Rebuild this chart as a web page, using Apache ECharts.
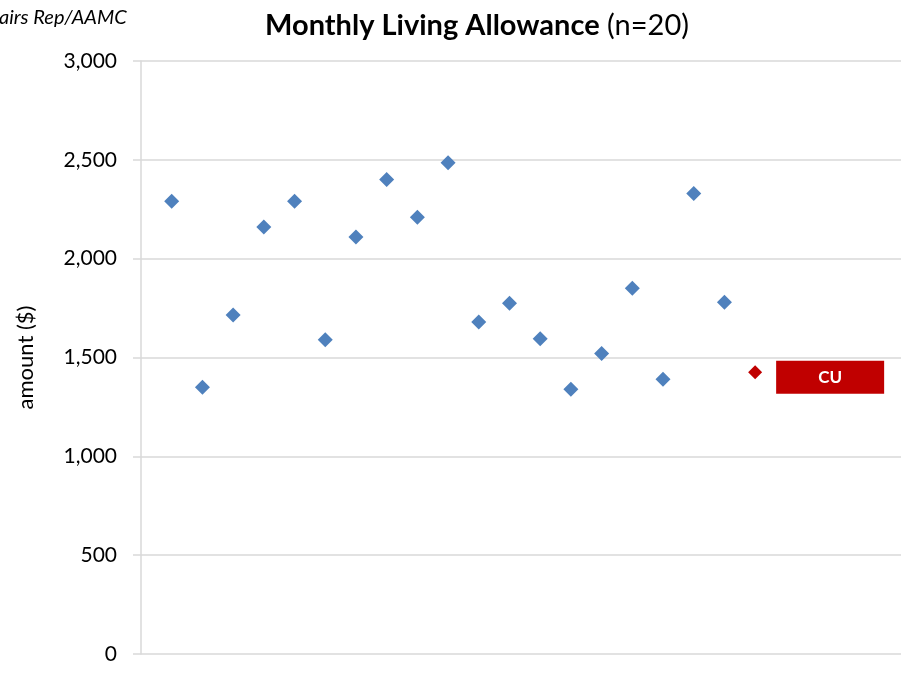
<!DOCTYPE html>
<html>
<head>
<meta charset="utf-8">
<script src="https://cdn.jsdelivr.net/npm/echarts@6/dist/echarts.min.js"></script>
<style>
  html, body { margin: 0; padding: 0; background: #fff; }
  #main { width: 901px; height: 674px; }
</style>
</head>
<body>
<div id="main"></div>
<script>
// school index along the x axis (no labels shown)
var schools = [1, 2, 3, 4, 5, 6, 7, 8, 9, 10, 11, 12, 13, 14, 15, 16, 17, 18, 19]
var allowance = [2290, 1350, 1715, 2160, 2290, 1590, 2110, 2400, 2210, 2485,
                 1680, 1775, 1595, 1340, 1520, 1850, 1390, 2330, 1780]
var cuSchool = 20
var cuAllowance = 1425
var yTicks = [0, 500, 1000, 1500, 2000, 2500, 3000]

var font = 'Lato, "Open Sans", sans-serif'
var myChart

function initChart() {
    myChart = echarts.init(document.getElementById('main'))

    var others = schools.map(function (s, i) { return [s, allowance[i]] })

    var option = {
        animation: false,
        textStyle: { fontFamily: font },
        title: {
            text: '{b|Monthly Living Allowance}{n|\u00a0(n=20)}',
            left: 472,
            top: 6,
            textAlign: 'center',
            textStyle: {
                fontWeight: 'normal',
                rich: {
                    b: { fontFamily: font, fontSize: 29, fontWeight: 'bold', color: '#000' },
                    n: { fontFamily: font, fontSize: 29, fontWeight: 'normal', color: '#000' }
                }
            }
        },
        graphic: [{
            type: 'text',
            left: -1,
            top: 8,
            style: {
                text: 'airs Rep/AAMC',
                font: 'italic 20px ' + font,
                fill: '#000'
            }
        }],
        grid: { left: 141, right: 0, top: 61, bottom: 20 },
        xAxis: {
            type: 'value',
            min: 0,
            max: 24.75,
            axisLabel: { show: false },
            axisTick: { show: false },
            splitLine: { show: false },
            axisLine: { show: false }
        },
        yAxis: {
            type: 'value',
            min: yTicks[0],
            max: yTicks[yTicks.length - 1],
            interval: 500,
            name: 'amount ($)',
            nameLocation: 'middle',
            nameGap: 104,
            nameRotate: 90,
            nameTextStyle: { fontFamily: font, fontSize: 22, color: '#000' },
            axisLine: { show: true, lineStyle: { color: '#d9d9d9', width: 1.5 } },
            axisTick: { show: true, length: 8, lineStyle: { color: '#d9d9d9', width: 1.5 } },
            splitLine: { lineStyle: { color: '#d9d9d9', width: 1.5 } },
            axisLabel: {
                margin: 24,
                fontFamily: font,
                fontSize: 21,
                color: '#000',
                formatter: function (v) { return v.toLocaleString('en-US') }
            }
        },
        series: [{
            name: 'Schools',
            type: 'scatter',
            symbol: 'diamond',
            symbolSize: 15,
            itemStyle: { color: '#4f81bd', opacity: 1 },
            data: others
        }, {
            name: 'CU',
            type: 'scatter',
            symbol: 'diamond',
            symbolSize: 14,
            itemStyle: { color: '#c00000', opacity: 1 },
            label: {
                show: true,
                position: 'right',
                distance: 14,
                offset: [0, 5],
                formatter: '{a|CU}',
                rich: {
                    a: {
                        backgroundColor: '#c00000',
                        color: '#fff',
                        fontWeight: 'bold',
                        fontSize: 17,
                        fontFamily: font,
                        width: 108,
                        height: 33,
                        lineHeight: 33,
                        align: 'center'
                    }
                }
            },
            data: [[cuSchool, cuAllowance]]
        }]
    }

    myChart.setOption(option)
}

initChart()
</script>
</body>
</html>
